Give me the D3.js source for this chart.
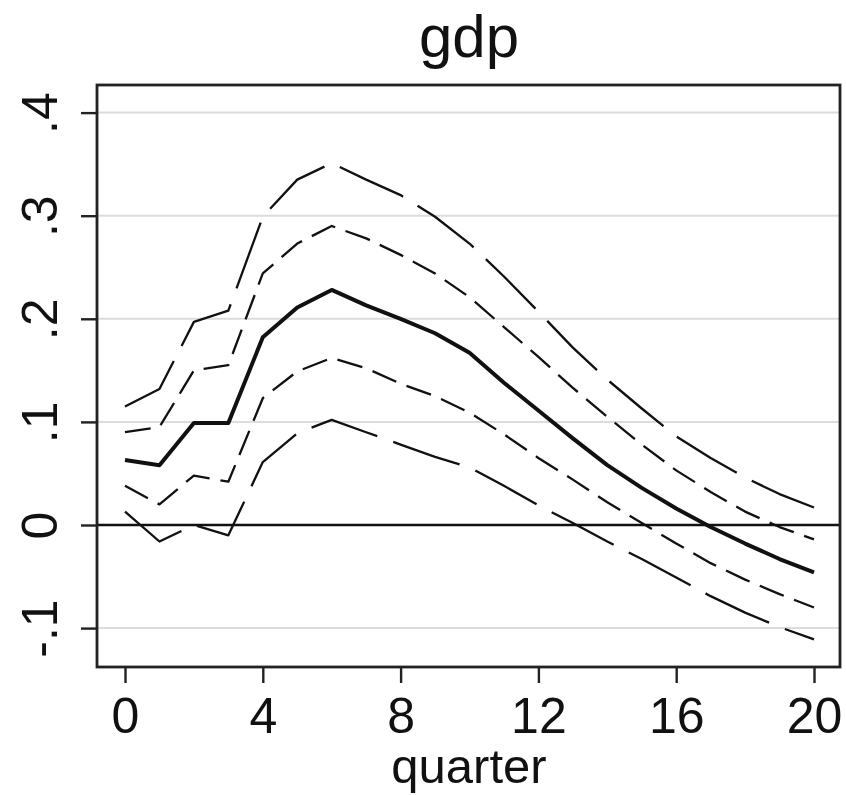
<!DOCTYPE html>
<html>
<head>
    <meta charset="utf-8">
    <title>gdp</title>
    <script src="https://d3js.org/d3.v7.min.js"></script>
    <style>
        body { margin: 0; background: #fff; }
        text { font-family: "Liberation Sans", Arial, Helvetica, sans-serif; fill: #111; }
        .axis path { display: none; }
        .axis line { stroke: #222; stroke-width: 2.4px; }
        .grid { stroke: #dcdcdc; stroke-width: 2px; }
    </style>
</head>
<body>
    <div id="chart"></div>
    <script>
        // quarters after the shock
        const quarters = [0, 1, 2, 3, 4, 5, 6, 7, 8, 9, 10, 11, 12, 13, 14, 15, 16, 17, 18, 19, 20];
        // point estimate
        const irf = [0.063, 0.058, 0.099, 0.099, 0.182, 0.211, 0.228, 0.213, 0.200, 0.186, 0.167,
                     0.138, 0.111, 0.084, 0.058, 0.036, 0.016, -0.002, -0.018, -0.033, -0.046];
        // inner band (short dashes)
        const upperInner = [0.090, 0.095, 0.150, 0.155, 0.244, 0.273, 0.290, 0.278, 0.262, 0.244, 0.221,
                            0.192, 0.163, 0.133, 0.105, 0.078, 0.053, 0.032, 0.013, -0.002, -0.014];
        const lowerInner = [0.038, 0.020, 0.048, 0.042, 0.123, 0.149, 0.162, 0.152, 0.137, 0.125, 0.109,
                            0.088, 0.065, 0.044, 0.022, 0.002, -0.018, -0.037, -0.053, -0.067, -0.080];
        // outer band (long dashes)
        const upperOuter = [0.115, 0.132, 0.197, 0.208, 0.299, 0.335, 0.351, 0.335, 0.320, 0.299, 0.273,
                            0.241, 0.207, 0.172, 0.141, 0.113, 0.086, 0.065, 0.046, 0.030, 0.017];
        const lowerOuter = [0.013, -0.016, 0.000, -0.010, 0.061, 0.089, 0.102, 0.090, 0.078, 0.066, 0.056,
                            0.038, 0.019, 0.002, -0.016, -0.033, -0.051, -0.069, -0.085, -0.099, -0.111];
        const xTicks = [0, 4, 8, 12, 16, 20];
        const yTicks = [-0.1, 0, 0.1, 0.2, 0.3, 0.4];

        const width = 846;
        const height = 795;
        const box = { left: 97, right: 840, top: 85, bottom: 667 };

        const svg = d3.select("#chart")
            .append("svg")
            .attr("width", width)
            .attr("height", height);

        svg.append("rect")
            .attr("width", width)
            .attr("height", height)
            .attr("fill", "#fff");

        const x = d3.scaleLinear().domain([0, 20]).range([125, 814]);
        const y = d3.scaleLinear().domain([0, 0.4]).range([525, 112.6]);

        // gridlines
        svg.append("g")
            .selectAll("line")
            .data(yTicks.filter(d => d !== 0))
            .enter()
            .append("line")
            .attr("class", "grid")
            .attr("x1", box.left)
            .attr("x2", box.right)
            .attr("y1", d => y(d))
            .attr("y2", d => y(d));

        // zero line
        svg.append("line")
            .attr("x1", box.left)
            .attr("x2", box.right)
            .attr("y1", y(0))
            .attr("y2", y(0))
            .attr("stroke", "#111")
            .attr("stroke-width", 2.6);

        const line = d3.line()
            .x((d, i) => x(quarters[i]))
            .y(d => y(d));

        const series = [
            { values: upperOuter, dash: "70,17", w: 2.3 },
            { values: lowerOuter, dash: "70,17", w: 2.3 },
            { values: upperInner, dash: "26,11", w: 2.3 },
            { values: lowerInner, dash: "26,11", w: 2.3 },
            { values: irf, dash: null, w: 4 }
        ];

        svg.append("g")
            .selectAll("path")
            .data(series)
            .enter()
            .append("path")
            .attr("fill", "none")
            .attr("stroke", "#111")
            .attr("stroke-width", d => d.w)
            .attr("stroke-dasharray", d => d.dash)
            .attr("stroke-linejoin", "round")
            .attr("d", d => line(d.values));

        // plot frame
        svg.append("rect")
            .attr("x", box.left)
            .attr("y", box.top)
            .attr("width", box.right - box.left)
            .attr("height", box.bottom - box.top)
            .attr("fill", "none")
            .attr("stroke", "#222")
            .attr("stroke-width", 2.8);

        // x axis
        const xAxis = svg.append("g")
            .attr("class", "axis")
            .attr("transform", "translate(0," + box.bottom + ")")
            .call(d3.axisBottom(x).tickValues(xTicks).tickSize(16).tickPadding(14));
        xAxis.selectAll("text")
            .style("font-size", "50px");

        // y axis, labels rotated
        const fmt = d => d === 0 ? "0" : d3.format(".1f")(d).replace("\u2212", "-").replace(/^(-?)0\./, "$1.");
        const yAxis = svg.append("g")
            .attr("class", "axis")
            .attr("transform", "translate(" + box.left + ",0)")
            .call(d3.axisLeft(y).tickValues(yTicks).tickSize(16).tickFormat(fmt));
        yAxis.selectAll("text")
            .attr("x", null)
            .attr("dy", null)
            .attr("text-anchor", "middle")
            .attr("transform", "translate(-40,0) rotate(-90)")
            .style("font-size", "50px");

        // titles
        svg.append("text")
            .attr("x", 469)
            .attr("y", 57)
            .attr("text-anchor", "middle")
            .style("font-size", "60px")
            .text("gdp");

        svg.append("text")
            .attr("x", 469)
            .attr("y", 783)
            .attr("text-anchor", "middle")
            .style("font-size", "49px")
            .text("quarter");
    </script>
</body>
</html>
